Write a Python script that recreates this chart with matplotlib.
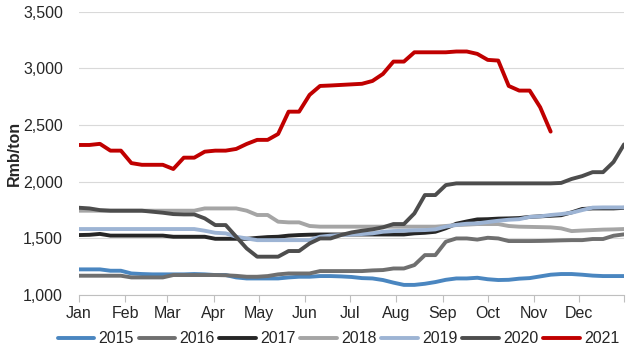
#!/usr/bin/env python
from matplotlib import pyplot

# weekly prices, Rmb/ton (one point per week from 1 Jan)
y2015 = [1227, 1227, 1227, 1215, 1215, 1191, 1186, 1183, 1183, 1183, 1183, 1186, 1183,
         1177, 1177, 1156, 1147, 1147, 1147, 1147, 1156, 1162, 1162, 1168, 1168, 1165,
         1160, 1150, 1147, 1133, 1110, 1090, 1090, 1100, 1115, 1135, 1147, 1147, 1153,
         1140, 1133, 1135, 1145, 1150, 1165, 1180, 1186, 1186, 1180, 1172, 1168, 1168, 1168]
y2016 = [1171, 1171, 1171, 1171, 1171, 1156, 1156, 1156, 1156, 1177, 1177, 1177, 1177,
         1177, 1175, 1170, 1162, 1162, 1168, 1183, 1191, 1191, 1191, 1212, 1212, 1212,
         1212, 1212, 1218, 1221, 1235, 1235, 1265, 1353, 1353, 1471, 1500, 1500, 1490,
         1506, 1500, 1477, 1477, 1477, 1478, 1480, 1483, 1485, 1485, 1495, 1495, 1524, 1536]
y2017 = [1530, 1532, 1540, 1525, 1525, 1525, 1525, 1525, 1525, 1515, 1515, 1515, 1515,
         1497, 1497, 1497, 1497, 1505, 1512, 1515, 1525, 1530, 1533, 1535, 1535, 1535,
         1535, 1535, 1535, 1535, 1535, 1535, 1545, 1550, 1559, 1590, 1630, 1650, 1668,
         1670, 1675, 1677, 1680, 1690, 1695, 1700, 1705, 1730, 1760, 1765, 1765, 1765, 1770]
y2018 = [1745, 1745, 1745, 1745, 1745, 1745, 1745, 1745, 1745, 1745, 1745, 1745, 1765,
         1765, 1765, 1765, 1745, 1707, 1707, 1648, 1642, 1642, 1610, 1604, 1604, 1604,
         1604, 1604, 1604, 1604, 1604, 1604, 1604, 1604, 1604, 1610, 1618, 1622, 1627,
         1627, 1627, 1610, 1604, 1602, 1600, 1598, 1589, 1565, 1570, 1574, 1578, 1580, 1583]
y2019 = [1583, 1583, 1583, 1583, 1583, 1583, 1583, 1583, 1583, 1583, 1583, 1583, 1568,
         1550, 1545, 1515, 1500, 1485, 1485, 1485, 1485, 1485, 1485, 1515, 1525, 1530,
         1535, 1539, 1545, 1559, 1565, 1568, 1572, 1574, 1580, 1604, 1620, 1630, 1633,
         1645, 1656, 1665, 1670, 1690, 1695, 1707, 1715, 1727, 1750, 1772, 1774, 1774, 1774]
y2020 = [1771, 1765, 1750, 1745, 1745, 1745, 1745, 1736, 1727, 1715, 1712, 1712, 1677,
         1618, 1618, 1515, 1412, 1339, 1339, 1339, 1389, 1389, 1456, 1500, 1500, 1530,
         1553, 1568, 1580, 1598, 1627, 1627, 1721, 1883, 1883, 1971, 1986, 1986, 1986,
         1986, 1986, 1986, 1986, 1986, 1986, 1986, 1990, 2025, 2050, 2085, 2085, 2175, 2330]
y2021 = [2325, 2325, 2335, 2275, 2275, 2165, 2150, 2150, 2150, 2113, 2213, 2213, 2266,
         2275, 2275, 2290, 2334, 2370, 2370, 2422, 2619, 2619, 2767, 2846, 2850, 2855,
         2860, 2865, 2890, 2952, 3061, 3061, 3143, 3143, 3143, 3143, 3150, 3150, 3129,
         3076, 3070, 2846, 2805, 2805, 2658, 2443]

years = ['2015', '2016', '2017', '2018', '2019', '2020', '2021']
colors = ['#4a86c0', '#6f6f6f', '#262626', '#a5a5a5', '#9db4d4', '#4d4d4d', '#c00000']
months = ['Jan', 'Feb', 'Mar', 'Apr', 'May', 'Jun',
          'Jul', 'Aug', 'Sep', 'Oct', 'Nov', 'Dec']
month_start = [0, 31, 59, 90, 120, 151, 181, 212, 243, 273, 304, 334, 364]

pyplot.rcParams['font.family'] = ['Liberation Sans Narrow', 'Liberation Sans', 'DejaVu Sans']
fs = 11.5

fig = pyplot.figure(figsize=(6.42, 3.59), dpi=100)
ax = fig.add_axes([0.123, 0.178, 0.849, 0.789])

for label, series, color in zip(years, [y2015, y2016, y2017, y2018, y2019, y2020, y2021], colors):
    days = [7 * i for i in range(len(series))]
    ax.plot(days, series, color=color, linewidth=2.8, label=label,
            solid_capstyle='round', solid_joinstyle='round')

ax.set_xlim(0, 364)
ax.set_ylim(1000, 3500)
ax.set_yticks(range(1000, 3501, 500))
ax.set_yticklabels(['{:,}'.format(v) for v in range(1000, 3501, 500)])
ax.set_xticks(month_start)
ax.set_xticklabels(months + [''])
ax.tick_params(axis='y', length=0, labelsize=fs, colors='#262626', pad=11.5)
ax.tick_params(axis='x', length=5, width=0.8, color='#bfbfbf', labelsize=fs,
               labelcolor='#262626', pad=3)
ax.grid(axis='y', color='#d9d9d9', linewidth=0.8)
ax.set_axisbelow(True)
for side in ['top', 'right', 'left']:
    ax.spines[side].set_visible(False)
ax.spines['bottom'].set_color('#bfbfbf')
ax.spines['bottom'].set_zorder(0.5)

ax.set_ylabel('Rmb/ton', fontsize=fs, fontweight='bold', color='#262626', labelpad=1)

fig.legend(loc='center', bbox_to_anchor=(0.527, 0.056), ncol=7, frameon=False,
           fontsize=fs, handlelength=2.3, handletextpad=0.25, columnspacing=0.3,
           labelcolor='#262626', borderpad=0)

fig.savefig('out.png', dpi=100)
